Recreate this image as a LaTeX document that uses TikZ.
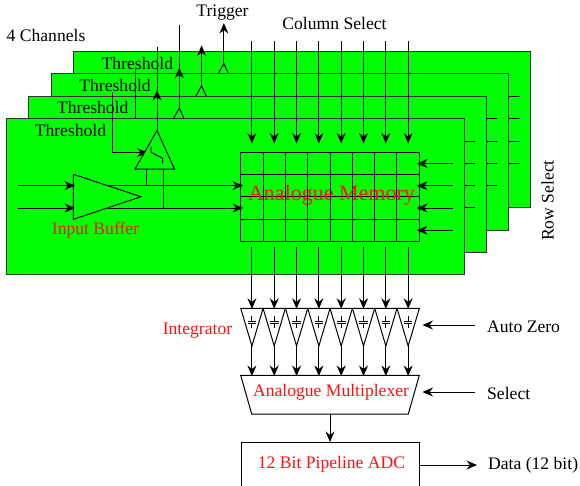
\documentclass[tikz,border=0pt]{standalone}
\usepackage{fontspec}
\setmainfont{Liberation Serif}
\usepackage{tikz}
\usetikzlibrary{arrows.meta, positioning, calc}
\definecolor{SheetGreen}{HTML}{00FF00}
\definecolor{LabelRed}{HTML}{FF1010}
\tikzset{
  wire/.style={black, line width=1pt},
  tipped/.style={wire, -{Stealth[length=10.5pt, width=9pt, inset=3.5pt]}},
  sheet/.style={draw=black!80, fill=SheetGreen, line width=1pt},
  blocktxt/.style={font=\fontsize{17.6}{20}\selectfont, inner sep=0pt},
  redtxt/.style={blocktxt, text=LabelRed},
  part/.style={draw=black, line width=1pt, line join=miter}
}
\begin{document}
\begin{tikzpicture}[x=1pt, y=-1pt]
      \useasboundingbox (0,0) rectangle (580,485);
      %% Channel sheets, back one first
      \foreach \ch in {3,2,1,0} {
        \begin{scope}[shift={({22.3*\ch},{-22.3*\ch})}]
          \draw[sheet] (6.5,118.5) rectangle (464,274.7);
          \node[blocktxt] (thr\ch) at (70.5,130) {Threshold};
          %% Threshold input
          \coordinate (thrtop\ch) at (112.7,91.7);
          \coordinate (thrend\ch) at (147.5,152.5);
          \draw[tipped] (thrtop\ch) |- (thrend\ch);
          %% Comparator
          \draw[part, fill=SheetGreen] (157,130.5) -- (174.5,169) -- (135,169) -- cycle;
          \coordinate (cmp\ch) at (157,130.5);
          \coordinate (trg\ch) at (157,90);
          \draw[tipped] (cmp\ch) -- (trg\ch);
          %% Row select
          \foreach \r in {0,1,2,3} {
            \coordinate (rowout\ch\r) at (452.7,{163.5+22.25*\r});
            \coordinate (rowin\ch\r) at (417,{163.5+22.25*\r});
            \draw[tipped] (rowout\ch\r) -- (rowin\ch\r);
          }
        \end{scope}
      }
      %% Switch inside comparator
      \draw[wire] (151,146.7) -- (151,152.3) -- (162.7,158.3) -- (162.7,163.3);
      %% Input buffer
      \draw[part] (73.3,174.3) -- (141,196.7) -- (73.3,219.3) -- cycle;
      \node[redtxt] (bufname) at (95.5,230) {Input Buffer};
      \draw[tipped] (17.7,185.6) -- (75,185.6);
      \draw[tipped] (17.7,208) -- (75,208);
      \draw[tipped] (107.5,185.6) -- (243,185.6);
      \draw[tipped] (107.5,208) -- (243,208);
      \draw[wire] (146,169) -- (146,185.6);
      \draw[wire] (163,169) -- (163,208);
      %% Memory grid
      \foreach \c in {1,...,7}
        \draw[wire] ({240.7+22.325*\c},152.5) -- ({240.7+22.325*\c},241.3);
      \foreach \r in {1,2,3}
        \draw[wire] (240.7,{152.5+22.2*\r}) -- (419.3,{152.5+22.2*\r});
      \draw[part] (240.7,152.5) rectangle (419.3,241.3);
      \node[font=\fontsize{22}{24}\selectfont, text=LabelRed, inner sep=0pt] (memname) at (331.5,195) {Analogue Memory};
      %% Mux and ADC
      \node[redtxt] (muxname) at (331,392) {Analogue Multiplexer};
      \draw[part] (240.7,375.3) -- (419.3,375.3) -- (408.3,414) -- (251.7,414) -- cycle;
      \node[draw, line width=1pt, minimum width=178.6pt, minimum height=46pt, inner sep=0pt, anchor=north west] (adc) at (240.7,442) {};
      \node[redtxt] (adcname) at (331.5,464) {12 Bit Pipeline ADC};
      \coordinate (muxout) at (330,414);
      \draw[tipped] (muxout) -- (adc.north -| muxout);
      %% Columns
      \foreach \c in {0,...,7} {
        \pgfmathsetmacro{\cx}{251.9+22.325*\c}
        \coordinate (coltop\c) at (\cx,41);
        \coordinate (colend\c) at (\cx,143.5);
        \coordinate (intin\c) at (\cx,308.8);
        \coordinate (intout\c) at (\cx,346);
        \draw[tipped] (coltop\c) -- (colend\c);
        \draw[tipped] (\cx,247.3) -- (intin\c);
        \draw[part] (\cx-11.16,308.3) -- (\cx+11.16,308.3) -- (intout\c) -- cycle;
        \draw[wire] (\cx,316) -- (\cx,321.3) (\cx-4.3,321.3) -- (\cx+4.3,321.3)
                    (\cx-4.3,323.3) -- (\cx+4.3,323.3) (\cx,323.3) -- (\cx,328);
        \draw[tipped] (intout\c) -- (\cx,376);
      }
      \node[redtxt] (intname) at (197.5,331) {Integrator};
      %% Side labels
      \node[blocktxt] (chan) at (46,35) {4 Channels};
      \node[blocktxt] (trig) at (222.5,13) {Trigger};
      \node[blocktxt] (colsel) at (334.5,23) {Column Select};
      \node[blocktxt, rotate=90] (rowsel) at (547.7,200.5) {Row Select};
      \node[blocktxt, anchor=west] (autozero) at (487,327) {Auto Zero};
      \node[blocktxt, anchor=west] (sel) at (487,393) {Select};
      \node[blocktxt, anchor=west] (data) at (488,465) {Data (12 bit)};
      \coordinate (zerotip) at (422.5,325);
      \coordinate (seltip) at (422.5,392);
      \draw[tipped] (475,325) -- (zerotip);
      \draw[tipped] (475,392) -- (seltip);
      \draw[tipped] (adc.east |- 0,465) -- (477,465);
    \end{tikzpicture}
\end{document}
